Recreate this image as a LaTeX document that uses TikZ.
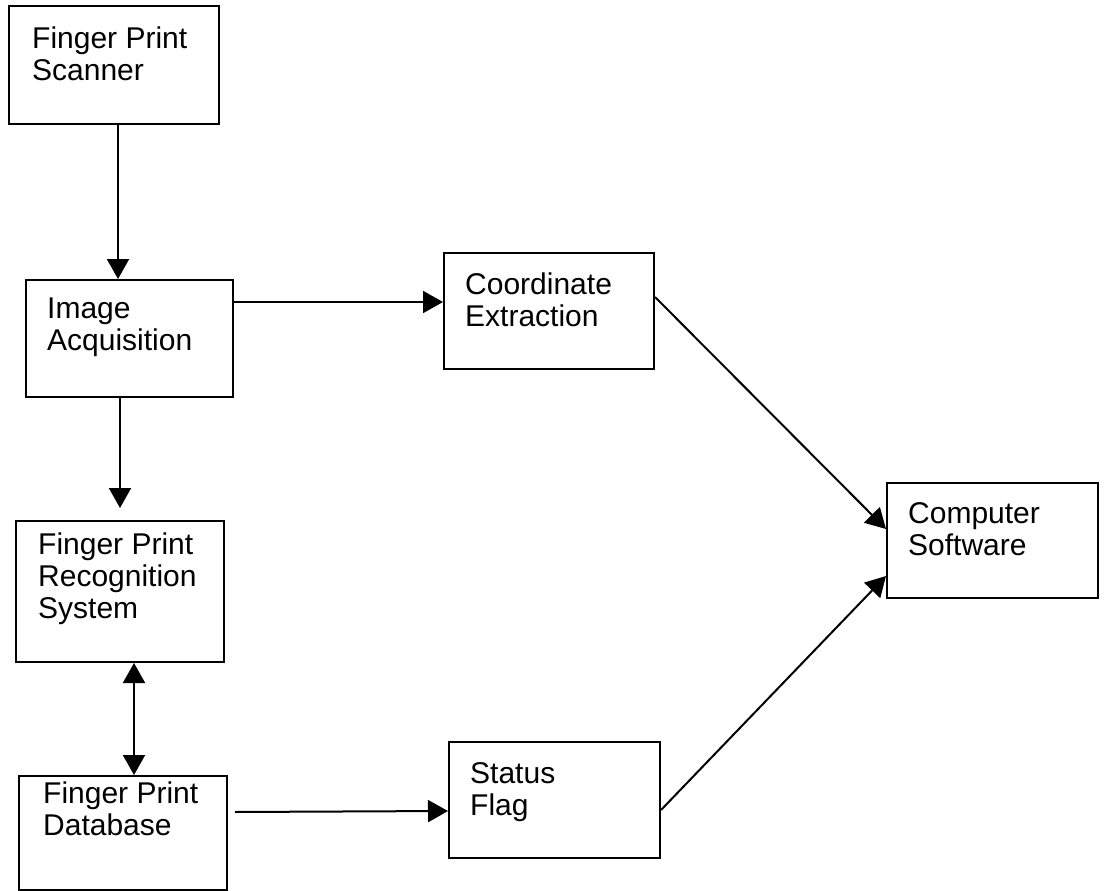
\documentclass[tikz,border=0pt]{standalone}
\usepackage{fontspec}
\setmainfont{Liberation Sans}
\usetikzlibrary{arrows.meta,calc}

\begin{document}
\begin{tikzpicture}[x=1pt,y=-1pt,
  blk/.style={draw=black, line width=2pt, rectangle, inner sep=0pt,
              anchor=north west, fill=none},
  lbl/.style={anchor=north west, inner sep=0pt, align=left,
              font=\fontsize{30}{32}\selectfont},
  arr/.style={line width=2pt, -{Triangle[width=22pt,length=20pt]}},
  darr/.style={line width=2pt, {Triangle[width=22pt,length=20pt]}-{Triangle[width=22pt,length=20pt]}}
]
\useasboundingbox (0,0) rectangle (1104,891);
\fill[white] (0,0) rectangle (1104,891);

% blocks
\node[blk, minimum width=210pt, minimum height=118pt] (scan) at (8,5) {};
\node[blk, minimum width=207pt, minimum height=117pt] (img)  at (25,279) {};
\node[blk, minimum width=208pt, minimum height=141pt] (rec)  at (15,520) {};
\node[blk, minimum width=208pt, minimum height=114pt] (db)   at (18,775) {};
\node[blk, minimum width=210pt, minimum height=116pt] (coord) at (443,252) {};
\node[blk, minimum width=211pt, minimum height=116pt] (flag) at (448,741) {};
\node[blk, minimum width=211pt, minimum height=115pt] (comp) at (886,482) {};

% labels
\node[lbl] (scanT)  at (32,27)   {Finger Print\\Scanner};
\node[lbl] (imgT)   at (47,298)  {Image\\Acquisition};
\node[lbl] (recT)   at (38,533)  {Finger Print\\Recognition\\System};
\node[lbl] (dbT)    at (43,782)  {Finger Print\\Database};
\node[lbl] (coordT) at (465,273) {Coordinate\\Extraction};
\node[lbl] (flagT)  at (470,762) {Status\\Flag};
\node[lbl] (compT)  at (908,502) {Computer\\Software};

% connectors
\draw[arr] ([xshift=4pt]scan.south) -- ([xshift=4pt]scan.south |- img.north);
\draw[arr] (img.south -| rec.north) -- ([yshift=12pt]rec.north);
\draw[darr] ([xshift=14pt]rec.south) -- ([xshift=14pt]rec.south |- db.north);
\draw[arr] ($(img.east |- coord.west)+(0,-9)$) -- ([yshift=9pt]coord.west);
\draw[arr] ($(db.east |- flag.west)+(7,12)$) -- ([yshift=-11pt]flag.west);
\draw[arr] ([yshift=14pt]coord.east) -- ([yshift=11.5pt]comp.west);
\draw[arr] ([yshift=-10pt]flag.east) -- ([yshift=-35.5pt]comp.west);
\end{tikzpicture}
\end{document}
